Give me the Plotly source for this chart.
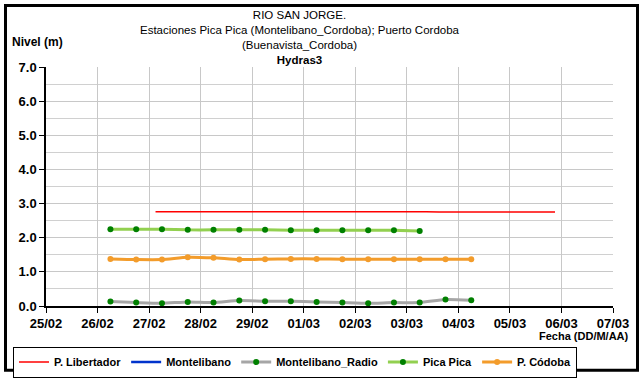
import plotly.graph_objects as go

# ---- data -------------------------------------------------------------
# 12-hourly observations (06:00 and 18:00)
obs_times = [
    "2012-02-26 06:00", "2012-02-26 18:00", "2012-02-27 06:00", "2012-02-27 18:00",
    "2012-02-28 06:00", "2012-02-28 18:00", "2012-02-29 06:00", "2012-02-29 18:00",
    "2012-03-01 06:00", "2012-03-01 18:00", "2012-03-02 06:00", "2012-03-02 18:00",
    "2012-03-03 06:00", "2012-03-03 18:00", "2012-03-04 06:00",
]
pica_pica = [2.25, 2.25, 2.25, 2.23, 2.23, 2.23, 2.23, 2.22, 2.22, 2.22, 2.22, 2.22, 2.20]
p_codoba = [1.38, 1.36, 1.36, 1.43, 1.41, 1.36, 1.37, 1.38, 1.38, 1.37, 1.37, 1.37, 1.37, 1.37, 1.37]
monte_radio = [0.13, 0.10, 0.08, 0.12, 0.10, 0.16, 0.14, 0.14, 0.12, 0.10, 0.08, 0.10, 0.10, 0.19, 0.17]

# 6-hourly sensor record at P. Libertador
lib_times = [
    "2012-02-27 03:00", "2012-02-27 09:00", "2012-02-27 15:00", "2012-02-27 21:00",
    "2012-02-28 03:00", "2012-02-28 09:00", "2012-02-28 15:00", "2012-02-28 21:00",
    "2012-02-29 03:00", "2012-02-29 09:00", "2012-02-29 15:00", "2012-02-29 21:00",
    "2012-03-01 03:00", "2012-03-01 09:00", "2012-03-01 15:00", "2012-03-01 21:00",
    "2012-03-02 03:00", "2012-03-02 09:00", "2012-03-02 15:00", "2012-03-02 21:00",
    "2012-03-03 03:00", "2012-03-03 09:00", "2012-03-03 15:00", "2012-03-03 21:00",
    "2012-03-04 03:00", "2012-03-04 09:00", "2012-03-04 15:00", "2012-03-04 21:00",
    "2012-03-05 03:00", "2012-03-05 09:00", "2012-03-05 15:00", "2012-03-05 21:00",
]
p_libertador = [
    2.76, 2.76, 2.76, 2.76, 2.76, 2.76, 2.76, 2.76,
    2.78, 2.78, 2.76, 2.76, 2.76, 2.76, 2.76, 2.76,
    2.76, 2.76, 2.76, 2.76, 2.76, 2.76, 2.75, 2.75,
    2.75, 2.75, 2.75, 2.75, 2.76, 2.75, 2.75, 2.75,
]
# Montelibano: no readings in this period (legend entry only)
montelibano_times = [None]
montelibano = [None]

x_ticks = ["2012-02-25", "2012-02-26", "2012-02-27", "2012-02-28", "2012-02-29", "2012-03-01",
           "2012-03-02", "2012-03-03", "2012-03-04", "2012-03-05", "2012-03-06", "2012-03-07"]
x_tick_labels = ["25/02", "26/02", "27/02", "28/02", "29/02", "01/03",
                 "02/03", "03/03", "04/03", "05/03", "06/03", "07/03"]
y_ticks = [0, 1, 2, 3, 4, 5, 6, 7]
y_tick_labels = ["0.0", "1.0", "2.0", "3.0", "4.0", "5.0", "6.0", "7.0"]

# ---- layout geometry ----------------------------------------------------
W, H = 640, 390
ML, MR, MT, MB = 46, 27, 67, 70
PW, PH = W - ML - MR, H - MT - MB


def px(x):
    return (x - ML) / PW


def py(y):
    return (H - MB - y) / PH


FONT = "Arial, Liberation Sans, sans-serif"
GREEN_MK = "#008000"

fig = go.Figure()
fig.add_trace(go.Scatter(
    x=lib_times, y=p_libertador, name="P. Libertador", mode="lines",
    line=dict(color="#FF0000", width=1.5)))
fig.add_trace(go.Scatter(
    x=montelibano_times, y=montelibano, name="Montelibano", mode="lines",
    line=dict(color="#0033CC", width=2.5)))
fig.add_trace(go.Scatter(
    x=obs_times[:len(monte_radio)], y=monte_radio, name="Montelibano_Radio", mode="lines+markers",
    line=dict(color="#A6A6A6", width=3, shape="spline", smoothing=0.6),
    marker=dict(color=GREEN_MK, size=6)))
fig.add_trace(go.Scatter(
    x=obs_times[:len(pica_pica)], y=pica_pica, name="Pica Pica", mode="lines+markers",
    line=dict(color="#92D050", width=3, shape="spline", smoothing=0.6),
    marker=dict(color=GREEN_MK, size=6)))
fig.add_trace(go.Scatter(
    x=obs_times[:len(p_codoba)], y=p_codoba, name="P. Códoba", mode="lines+markers",
    line=dict(color="#F39C2B", width=3, shape="spline", smoothing=0.6),
    marker=dict(color="#F39C2B", size=6)))

title_text = ("RIO SAN JORGE.<br>"
              "Estaciones Pica Pica (Montelibano_Cordoba); Puerto Cordoba<br>"
              "(Buenavista_Cordoba)<br>"
              "<b>Hydras3</b>")
annotations = [
    dict(text=title_text, x=px(300), y=py(35.5), xref="paper", yref="paper",
         xanchor="center", yanchor="middle", align="center", showarrow=False,
         font=dict(family=FONT, size=11.5, color="#000")),
    dict(text="<b>Nivel (m)</b>", x=px(10), y=py(41), xref="paper", yref="paper",
         xanchor="left", yanchor="middle", showarrow=False,
         font=dict(family=FONT, size=12, color="#000")),
    dict(text="<b>Fecha (DD/M/AA)</b>", x=px(631), y=py(352), xref="paper",
         yref="paper", xanchor="right", yanchor="middle", showarrow=False,
         font=dict(family=FONT, size=11, color="#000")),
]

fig.update_layout(
    width=W, height=H,
    margin=dict(l=ML, r=MR, t=MT, b=MB),
    paper_bgcolor="white", plot_bgcolor="white",
    font=dict(family=FONT, color="#000"),
    showlegend=True,
    legend=dict(orientation="h", x=px(13), y=py(363), xanchor="left", yanchor="top",
                bordercolor="#000", borderwidth=1, bgcolor="white",
                font=dict(family=FONT, size=11, color="#000", weight="bold"),
                tracegroupgap=0, itemsizing="trace"),
    annotations=annotations,
    shapes=[dict(type="rect", xref="paper", yref="paper",
                 x0=px(5.5), x1=px(637.5), y0=py(388), y1=py(2),
                 line=dict(color="#000", width=3), layer="above")],
    xaxis=dict(
        type="date", range=["2012-02-25", "2012-03-07"],
        tickmode="array", tickvals=x_ticks, ticktext=x_tick_labels,
        tickfont=dict(family=FONT, size=13, color="#000", weight="bold"),
        showgrid=True, gridcolor="#C8C8C8", gridwidth=1,
        showline=True, linecolor="#000", linewidth=1.5,
        ticks="outside", ticklen=5, tickcolor="#000", tickwidth=1,
        zeroline=False, fixedrange=True),
    yaxis=dict(
        range=[0, 7], tickmode="array", tickvals=y_ticks, ticktext=y_tick_labels,
        tickfont=dict(family=FONT, size=13, color="#000", weight="bold"),
        showgrid=True, gridcolor="#C8C8C8", gridwidth=1,
        minor=dict(dtick=0.5, showgrid=True, gridcolor="#D0D0D0", gridwidth=1, ticks=""),
        showline=True, linecolor="#000", linewidth=1.5,
        ticks="outside", ticklen=5, tickcolor="#000", tickwidth=1,
        zeroline=False, fixedrange=True),
)

fig.write_html("out.html")
